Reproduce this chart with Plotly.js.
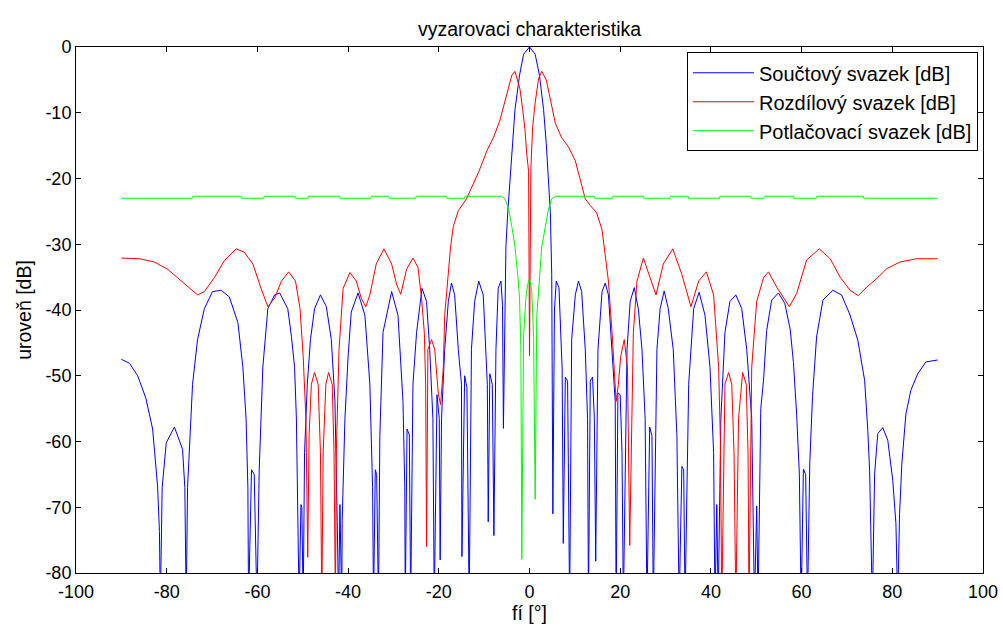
<!DOCTYPE html>
<html>
<head>
<meta charset="utf-8">
<script src="https://cdn.plot.ly/plotly-3.0.1.min.js"></script>
<style>html,body{margin:0;padding:0;background:#fff;}#chart{width:1003px;height:627px;}</style>
</head>
<body>
<div id="chart"></div>
<script>
// ---- data ----
const chartTitle = "vyzarovaci charakteristika";
const xTitle = "fí [°]";
const yTitle = "uroveň [dB]";
const seriesNames = ["Součtový svazek [dB]", "Rozdílový svazek [dB]", "Potlačovací svazek [dB]"];

// Součtový svazek (sum beam)
const sumX = [-90,-88.2,-86.4,-84.6,-83.1,-82.0,-81.6,-81.4,-81.0,-80.1,-78.3,-76.5,-76.0,-75.7,-75.4,-74.3,-73.2,-71.7,-69.9,-68.0,-66.2,-64.3,-63.2,-62.5,-62.1,-61.95,-61.3,-60.7,-60.1,-59.6,-58.8,-57.7,-56.2,-55.1,-53.3,-52.5,-51.8,-51.4,-50.8,-50.4,-50.2,-49.9,-49.6,-49.0,-48.3,-47.4,-46.1,-44.8,-43.7,-42.9,-42.4,-42.1,-41.8,-41.4,-41.3,-40.7,-40.0,-39.3,-37.8,-36.3,-35.2,-34.6,-34.4,-34.0,-33.7,-33.3,-33.0,-32.3,-30.4,-29.0,-27.9,-27.5,-27.4,-27.0,-26.5,-26.2,-25.7,-24.9,-23.7,-22.7,-22.0,-21.3,-21.0,-20.4,-19.9,-19.7,-19.4,-18.7,-17.9,-17.2,-16.5,-15.7,-15.0,-14.9,-14.3,-13.8,-13.3,-12.8,-12.1,-11.2,-10.2,-9.3,-9.1,-8.75,-8.2,-7.85,-7.4,-6.9,-6.3,-5.95,-5.75,-5.5,-5.2,-4.8,-4.3,-3.7,-3.2,-2.2,-1.3,0,1.25,2.2,3.1,3.7,4.2,4.6,4.9,5.15,5.5,5.9,6.5,6.8,7.2,7.45,7.9,8.4,8.85,9.3,10.1,10.8,11.5,12.3,12.8,13.0,13.4,13.9,14.3,14.6,15.1,16.0,16.7,17.4,18.2,18.9,19.1,19.5,20.0,20.4,20.7,21.5,22.2,23.1,24.0,24.8,25.5,25.9,26.5,27.0,27.3,28.1,28.8,29.7,30.6,31.7,32.5,33.0,33.6,34.0,34.3,35.1,36.2,37.4,38.7,39.8,40.6,40.9,41.3,41.6,42.2,43.1,44.2,45.5,46.8,47.9,49.0,49.6,50.1,50.4,51.0,51.6,52.3,53.4,54.9,56.3,57.5,58.2,58.9,59.5,59.9,60.4,60.9,61.3,61.8,62.4,63.3,64.7,66.9,68.8,70.6,72.4,73.9,74.6,75.0,75.6,76.1,76.8,77.9,79.0,80.1,80.8,81.2,81.6,82.1,83.0,84.1,85.6,87.4,90];
const sumY = [-47.5,-48.1,-50,-53.4,-58.1,-66.9,-73.7,-85,-67,-60.2,-57.8,-61.2,-67,-85,-67,-51.3,-44.5,-39.8,-37.2,-37.0,-38,-41.9,-48.7,-56.5,-67,-85,-64.3,-65,-85,-64.3,-48.7,-39.8,-37.7,-37.4,-39.8,-44,-48.7,-56.5,-85,-69.6,-70,-85,-61.7,-51.3,-44.5,-39.8,-37.7,-39.5,-44.5,-53.9,-72.2,-85,-69.6,-85,-72,-56.5,-47.1,-40.3,-37.4,-40.8,-51.3,-67,-85,-64.3,-65,-85,-59.1,-43.4,-37.2,-40.8,-53.9,-67,-85,-58.1,-59,-85,-51.3,-43.4,-36.7,-38.7,-46,-56.5,-85,-52.9,-56.5,-78,-56.5,-46,-38.7,-35.9,-37.7,-46,-51.3,-77.5,-50,-51.8,-85,-46,-38.7,-35.6,-37.7,-51.3,-72.2,-49.7,-51.3,-74.3,-46,-36.7,-35.6,-39.3,-58,-43,-30.4,-25.2,-20,-14.7,-9.5,-4.3,-1.1,0,-1.1,-4.3,-9.5,-14.7,-20,-25.2,-34.6,-71,-40,-35.6,-36.6,-41,-49,-75.5,-50.2,-50.8,-85,-44.5,-37.7,-35.6,-37.2,-46,-56.5,-85,-50.8,-50.2,-56.5,-78.2,-46,-37.2,-35.9,-37.7,-46,-53.9,-85,-52.6,-52.9,-61.7,-85,-46,-38.7,-36.6,-39.8,-46,-56.5,-85,-57.8,-59.1,-85,-46,-39.8,-37.1,-39.8,-46,-59.1,-85,-63.8,-64.3,-85,-51.3,-39.8,-37.3,-40.8,-48.7,-61.7,-85,-69.6,-85,-56.5,-43.4,-38.7,-37.7,-39.8,-46,-56.5,-85,-69.8,-85,-55,-50.7,-43.1,-38.5,-37.4,-39,-43,-48,-55.8,-64.9,-85,-64.2,-65,-85,-63.4,-53.2,-44.1,-38.5,-37,-37.7,-40.6,-44.6,-50.7,-58.3,-64.5,-85,-64.9,-58.8,-57.9,-59.8,-65.9,-72.5,-85,-71,-63.4,-55.8,-52.2,-49.7,-47.9,-47.6];

// Rozdílový svazek (difference beam)
const diffX = [-90,-86,-82.7,-79.8,-77.6,-75.4,-73.2,-71.7,-69.5,-67.3,-64.7,-62.9,-61.0,-59.2,-57.7,-56.2,-54.7,-53.1,-51.6,-50.6,-49.9,-49.3,-48.9,-48.6,-48.1,-47.4,-46.6,-46.1,-45.8,-45.5,-44.9,-44.3,-43.5,-43.1,-42.8,-42.6,-42.0,-41.1,-39.6,-38.2,-37.1,-36.1,-35.2,-33.8,-32.1,-30.4,-29.3,-28.4,-27.1,-25.7,-24.6,-23.8,-23.2,-22.9,-22.7,-22.4,-21.6,-20.9,-20.1,-19.6,-19.0,-18.7,-17.9,-17.4,-16.8,-15.7,-13.9,-12.8,-11.2,-9.4,-7.9,-6.5,-5.0,-3.9,-3.2,-2.1,-1.5,-1.0,-0.6,-0.2,0,0.3,0.7,1.25,2.0,2.7,3.7,4.6,5.7,7.1,8.6,10.1,11.2,12.3,13.4,14.8,16.0,16.7,17.4,18.2,18.7,19.1,19.6,20.1,20.9,21.6,22.1,22.6,22.9,23.7,25.1,26.6,27.9,29.5,31.6,33.6,35.6,37.3,39.0,40.6,41.7,42.1,42.4,43.1,43.9,44.6,45.1,45.5,46.1,47.0,47.8,48.2,48.4,49.0,50.1,51.6,52.7,54.5,57.3,58.9,61.1,63.9,66.3,68.5,70.7,72.5,74.4,76.6,78.8,81.7,85.4,90];
const diffY = [-32.1,-32.2,-32.7,-33.8,-35.1,-36.4,-37.7,-37.2,-35.1,-32.5,-30.7,-31.2,-33,-36.7,-39.5,-38.2,-35.6,-34.2,-35.6,-39.8,-47.1,-56.5,-77.6,-59.1,-51.3,-49.5,-51.3,-61.7,-85,-61.7,-51.3,-49.5,-51.3,-61.7,-85,-61.7,-46,-36.7,-34.3,-35.6,-38.2,-39.5,-37.7,-33,-30.7,-33,-36.1,-37.6,-33.8,-32.1,-33.5,-38.2,-43.4,-51.3,-76,-46,-44.5,-46,-52.8,-54.4,-48.7,-40.8,-34.6,-30.4,-27.3,-24.9,-23.1,-21.5,-19,-15.8,-13.7,-11.1,-6.9,-4.3,-3.7,-6.4,-9.5,-12.6,-16.3,-18.9,-47,-18.5,-12.1,-8.5,-4.8,-3.7,-5,-7.9,-11.6,-13.8,-15.2,-17.3,-20,-23.1,-24.1,-25.2,-27.8,-31.4,-35.6,-43.4,-49.2,-53.9,-51.3,-47.1,-44.5,-48.7,-75.8,-51.3,-43.4,-35.6,-32.1,-35.1,-37.7,-33,-30.7,-34.6,-39.5,-35.6,-34.2,-37.7,-48.7,-60,-85,-51.3,-49.5,-51.3,-61.7,-85,-56.5,-49.5,-51.3,-62,-85,-48.7,-38.7,-35.1,-34.2,-36.5,-39.5,-37.5,-32.4,-30.7,-32.2,-35,-37,-37.8,-36.5,-35.2,-33.7,-32.7,-32.2,-32.2];

// Potlačovací svazek (suppression beam)
const supX = [-90,-74.3,-74.2,-63.6,-63.5,-58.6,-58.5,-51.7,-51.6,-48.8,-48.7,-41.9,-41.8,-35.0,-34.9,-31.0,-30.9,-25.1,-25.0,-18.3,-18.2,-14.3,-14.2,-6.1,-5.4,-4.6,-3.9,-3.2,-2.6,-2.2,-1.9,-1.7,-1.3,-0.8,-0.4,-0.1,0.15,0.5,0.9,1.25,1.6,2.2,2.7,3.5,4.2,4.9,5.7,14.3,14.4,18.3,18.4,25.1,25.2,31.0,31.1,35.0,35.1,41.9,42.0,48.8,48.9,51.7,51.8,58.2,58.3,63.3,63.4,73.6,73.7,90];
const supY = [-23.0,-23.0,-22.7,-22.7,-23.0,-23.0,-22.7,-22.7,-23.0,-23.0,-22.7,-22.7,-23.0,-23.0,-22.7,-22.7,-23.0,-23.0,-22.7,-22.7,-23.0,-23.0,-22.7,-22.7,-23.1,-24.6,-27.3,-30.4,-34.6,-38.2,-46,-77.9,-44,-38.2,-36.1,-35.4,-35.7,-37.2,-44,-68.8,-41,-35.6,-30.4,-27.3,-24.6,-23.1,-22.7,-22.7,-23.0,-23.0,-22.7,-22.7,-23.0,-23.0,-22.7,-22.7,-23.0,-23.0,-22.7,-22.7,-23.0,-23.0,-22.7,-22.7,-23.0,-23.0,-22.7,-22.7,-23.0,-23.0];

const xTicks = [-100,-80,-60,-40,-20,0,20,40,60,80,100];
const yTicks = [-80,-70,-60,-50,-40,-30,-20,-10,0];
const seriesColors = ["#0000ff", "#ff0000", "#00ff00"];

const FONT = "Liberation Sans, Arial, Helvetica, sans-serif";

const traces = [
  {x: sumX, y: sumY, name: seriesNames[0]},
  {x: diffX, y: diffY, name: seriesNames[1]},
  {x: supX, y: supY, name: seriesNames[2]}
].map((t, i) => Object.assign(t, {
  type: 'scatter', mode: 'lines', cliponaxis: true,
  line: {color: seriesColors[i], width: 1}
}));

const axisCommon = {
  showline: true, linecolor: '#000', linewidth: 1, mirror: 'ticks',
  ticks: 'inside', ticklen: 5, tickcolor: '#000', tickwidth: 1,
  showgrid: false, zeroline: false,
  tickfont: {family: FONT, size: 18, color: '#000'}
};

const layout = {
  width: 1003, height: 627,
  margin: {l: 76, r: 20, t: 47, b: 54},
  paper_bgcolor: '#fff', plot_bgcolor: '#fff',
  font: {family: FONT, color: '#000'},
  title: {text: chartTitle, font: {family: FONT, size: 19.5, color: '#000'},
          x: 0.5, xref: 'paper', y: 1 - 29/627, yref: 'container', yanchor: 'middle'},
  xaxis: Object.assign({}, axisCommon, {
    range: [-100, 100], tickmode: 'array', tickvals: xTicks, ticktext: xTicks.map(String),
    ticklabelstandoff: 2,
    title: {text: xTitle, font: {family: FONT, size: 19.5, color: '#000'}, standoff: 4}
  }),
  yaxis: Object.assign({}, axisCommon, {
    range: [-80, 0], tickmode: 'array', tickvals: yTicks, ticktext: yTicks.map(String),
    title: {text: yTitle, font: {family: FONT, size: 19.5, color: '#000'}, standoff: 8}
  }),
  showlegend: true,
  legend: {
    x: 0.9945, xanchor: 'right', y: 0.99, yanchor: 'top',
    bgcolor: '#fff', bordercolor: '#000', borderwidth: 1,
    font: {family: FONT, size: 20, color: '#000'},
    itemwidth: 61
  }
};

Plotly.newPlot('chart', traces, layout, {displayModeBar: false, staticPlot: true});
</script>
</body>
</html>
